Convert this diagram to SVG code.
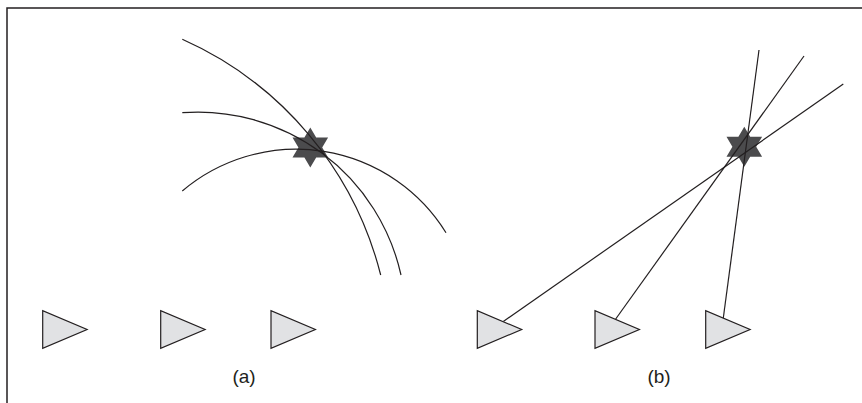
<svg xmlns="http://www.w3.org/2000/svg" width="862" height="403" viewBox="0 0 862 403">
<style>
.frame{fill:none;stroke:#231f20;stroke-width:1.5}
.tri{fill:#e1e2e4;stroke:#231f20;stroke-width:1.2;stroke-linejoin:miter}
.star{fill:#4b4b4d;stroke:none}
.conn{fill:none;stroke:#231f20;stroke-width:1.2}
.lbl{font-family:"Liberation Sans",Arial,sans-serif;font-size:19px;fill:#231f20;text-anchor:middle}
</style>
<defs>
<polygon id="hex" points="0,-20 5.9,-10 17.8,-10 11.9,0 17.8,10 5.9,10 0,20 -5.9,10 -17.8,10 -11.9,0 -17.8,-10 -5.9,-10"/>
<polygon id="rx" points="0,0 0,37.6 44.4,18.8"/>
</defs>
<path class="frame" d="M7 403 V8 H862"/>
<g id="star-a"><use href="#hex" class="star" x="310.3" y="147.5"/></g>
<g id="star-b"><use href="#hex" class="star" x="744.3" y="146.7"/></g>
<g id="connectors">
<path class="conn" d="M182.3 39.3 A352.4 352.4 0 0 1 380.7 275"/>
<path class="conn" d="M182.3 112.7 A208 208 0 0 1 401 275"/>
<path class="conn" d="M182.3 191 A176.2 176.2 0 0 1 446 232.7"/>
<line class="conn" x1="503.3" y1="321.5" x2="843.3" y2="84"/>
<line class="conn" x1="615.7" y1="319" x2="804" y2="56"/>
<line class="conn" x1="723.3" y1="318" x2="759" y2="50"/>
</g>
<g id="rx-a1"><use href="#rx" class="tri" x="42.7" y="310.7"/></g>
<g id="rx-a2"><use href="#rx" class="tri" x="160.7" y="310.7"/></g>
<g id="rx-a3"><use href="#rx" class="tri" x="271" y="310.7"/></g>
<g id="rx-b1"><use href="#rx" class="tri" x="477.3" y="310.7"/></g>
<g id="rx-b2"><use href="#rx" class="tri" x="595" y="310.7"/></g>
<g id="rx-b3"><use href="#rx" class="tri" x="705.7" y="310.7"/></g>
<g id="label-a"><text class="lbl" x="244" y="383">(a)</text></g>
<g id="label-b"><text class="lbl" x="659" y="383">(b)</text></g>
</svg>
